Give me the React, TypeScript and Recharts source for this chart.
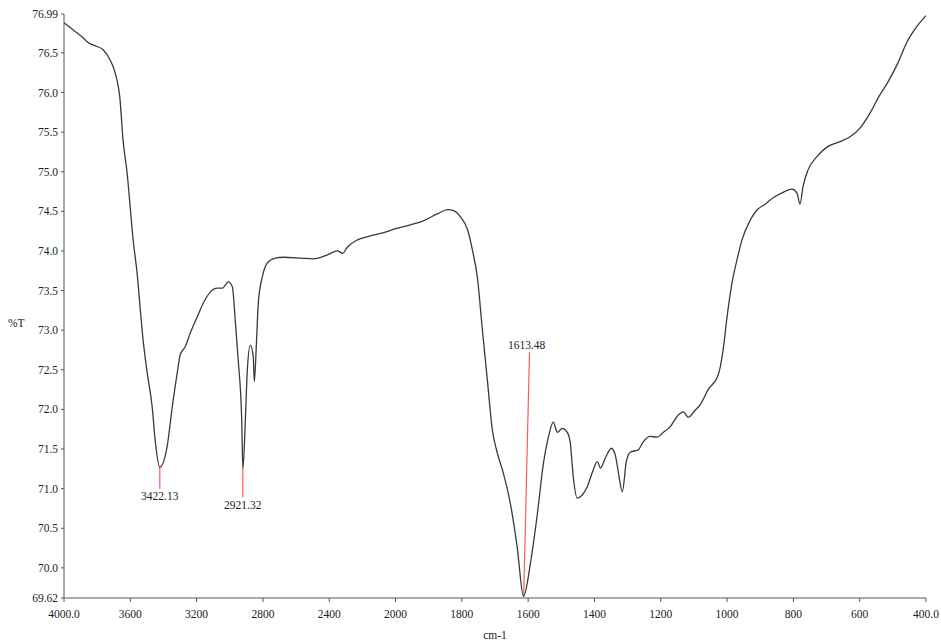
import { LineChart, Line, XAxis, YAxis, ReferenceLine, Label } from "recharts";

// spectrum: wavenumber (cm-1) and %T
const wavenumbers = [
  4000, 3946, 3885, 3855, 3801, 3764, 3722, 3692, 3662, 3644, 3619, 3601, 3583,
  3559, 3541, 3523, 3498, 3468, 3450, 3422, 3378, 3347, 3317, 3299, 3269, 3239,
  3196, 3160, 3118, 3076, 3045, 3009, 2985, 2967, 2949, 2928, 2921, 2906, 2894,
  2876, 2858, 2852, 2840, 2828, 2804, 2773, 2725, 2677, 2574, 2495, 2411, 2350,
  2320, 2290, 2230, 2151, 2072, 2000, 1955, 1916, 1873, 1843, 1825, 1804, 1783,
  1768, 1753, 1738, 1723, 1708, 1693, 1675, 1654, 1633, 1614, 1593, 1572, 1554,
  1539, 1524, 1512, 1497, 1482, 1473, 1464, 1452, 1437, 1422, 1406, 1391, 1382,
  1367, 1349, 1337, 1328, 1316, 1304, 1292, 1268, 1253, 1232, 1211, 1193, 1172,
  1147, 1132, 1117, 1096, 1081, 1057, 1027, 1012, 1000, 985, 970, 955, 930, 909,
  885, 861, 831, 804, 789, 780, 771, 756, 729, 699, 659, 629, 599, 569, 539, 515,
  485, 458, 428, 400,
];

const transmittance = [
  76.88, 76.79, 76.69, 76.63, 76.58, 76.54, 76.41, 76.25, 75.91, 75.4, 74.98,
  74.56, 74.14, 73.72, 73.29, 72.88, 72.46, 72.03, 71.61, 71.27, 71.53, 72.03,
  72.46, 72.69, 72.79, 72.96, 73.17, 73.34, 73.48, 73.53, 73.53, 73.61, 73.55,
  73.13, 72.62, 71.87, 71.25, 71.87, 72.5, 72.81, 72.66, 72.35, 72.79, 73.34,
  73.67, 73.85, 73.91, 73.92, 73.91, 73.9, 73.95, 74.0, 73.97, 74.05, 74.14,
  74.19, 74.23, 74.28, 74.33, 74.38, 74.47, 74.52, 74.51, 74.43, 74.27, 74.01,
  73.66, 73.0, 72.37, 71.74, 71.45, 71.2, 70.82, 70.26, 69.64, 70.06, 70.69,
  71.32, 71.65, 71.84, 71.71, 71.76, 71.71, 71.58, 71.15, 70.88, 70.92, 71.02,
  71.21, 71.34, 71.26, 71.39, 71.51, 71.42, 71.21, 70.96, 71.34, 71.46, 71.49,
  71.59, 71.66, 71.65, 71.71, 71.78, 71.93, 71.97, 71.9, 71.99, 72.06, 72.25,
  72.43, 72.75, 73.17, 73.6, 73.89, 74.14, 74.39, 74.52, 74.59, 74.67, 74.74,
  74.78, 74.73, 74.59, 74.81, 75.02, 75.19, 75.31, 75.38, 75.44, 75.55, 75.74,
  75.97, 76.13, 76.37, 76.63, 76.83, 76.97,
];

const xTickWavenumbers = [
  4000, 3600, 3200, 2800, 2400, 2000, 1800, 1600, 1400, 1200, 1000, 800, 600, 400,
];
const xTickLabels = [
  "4000.0", "3600", "3200", "2800", "2400", "2000", "1800", "1600", "1400",
  "1200", "1000", "800", "600", "400.0",
];
const yTicks = [
  69.62, 70.0, 70.5, 71.0, 71.5, 72.0, 72.5, 73.0, 73.5, 74.0, 74.5, 75.0, 75.5,
  76.0, 76.5, 76.99,
];

const peakLabels = ["3422.13", "2921.32", "1613.48"];
const peakWavenumbers = [3422.13, 2921.32, 1613.48];
const peakTransmittance = [71.27, 71.25, 69.64];

// the instrument halves the scale above 2000 cm-1
const toAxis = (wn: number) => (wn >= 2000 ? (4000 - wn) / 2 : 1000 + (2000 - wn));

const FONT = "'Liberation Serif', 'DejaVu Serif', serif";
const tickStyle = { fontSize: 11.5, fontFamily: FONT, fill: "#222" };

const data = wavenumbers.map((wn, i) => ({ x: toAxis(wn), t: transmittance[i] }));
const xTicks = xTickWavenumbers.map(toAxis);

const formatX = (v: number) => {
  const i = xTicks.indexOf(v);
  return i >= 0 ? xTickLabels[i] : "";
};
const formatY = (v: number) => (v === 69.62 || v === 76.99 ? v.toFixed(2) : v.toFixed(1));

export default function App() {
  const labelStyle = { fontSize: 11.5, fontFamily: FONT, fill: "#222" };
  return (
    <div style={{ position: "absolute", left: 0, top: 0, background: "#fff" }}>
      <LineChart
        width={941}
        height={643}
        data={data}
        margin={{ top: 14, right: 15, bottom: 0, left: 0 }}
      >
        <XAxis
          dataKey="x"
          type="number"
          domain={[0, 2600]}
          ticks={xTicks}
          interval={0}
          tickFormatter={formatX}
          tick={tickStyle}
          tickSize={4}
          tickMargin={8}
          height={45}
          stroke="#555"
          allowDataOverflow
        >
          <Label value="cm-1" position="insideBottom" offset={4} style={labelStyle} />
        </XAxis>
        <YAxis
          type="number"
          domain={[69.62, 76.99]}
          ticks={yTicks}
          interval={0}
          tickFormatter={formatY}
          tick={tickStyle}
          tickSize={3}
          tickMargin={3}
          width={64}
          stroke="#555"
          allowDataOverflow
        >
          <Label value="%T" position="insideLeft" offset={8} dy={17} style={labelStyle} />
        </YAxis>
        <ReferenceLine
          segment={[
            { x: toAxis(peakWavenumbers[0]), y: peakTransmittance[0] },
            { x: toAxis(peakWavenumbers[0]), y: 71.0 },
          ]}
          stroke="#ff5a5a"
          strokeWidth={1.2}
          label={{ value: peakLabels[0], position: "bottom", offset: 3, style: labelStyle }}
        />
        <ReferenceLine
          segment={[
            { x: toAxis(peakWavenumbers[1]), y: peakTransmittance[1] },
            { x: toAxis(peakWavenumbers[1]), y: 70.89 },
          ]}
          stroke="#ff5a5a"
          strokeWidth={1.2}
          label={{ value: peakLabels[1], position: "bottom", offset: 3, style: labelStyle }}
        />
        <ReferenceLine
          segment={[
            { x: toAxis(peakWavenumbers[2]), y: peakTransmittance[2] },
            { x: toAxis(1596), y: 72.72 },
          ]}
          stroke="#ff5a5a"
          strokeWidth={1.2}
          label={{ value: peakLabels[2], position: "top", offset: 3, style: labelStyle }}
        />
        <Line
          dataKey="t"
          type="monotone"
          stroke="#3a3a3a"
          strokeWidth={1.3}
          dot={false}
          isAnimationActive={false}
        />
      </LineChart>
    </div>
  );
}
